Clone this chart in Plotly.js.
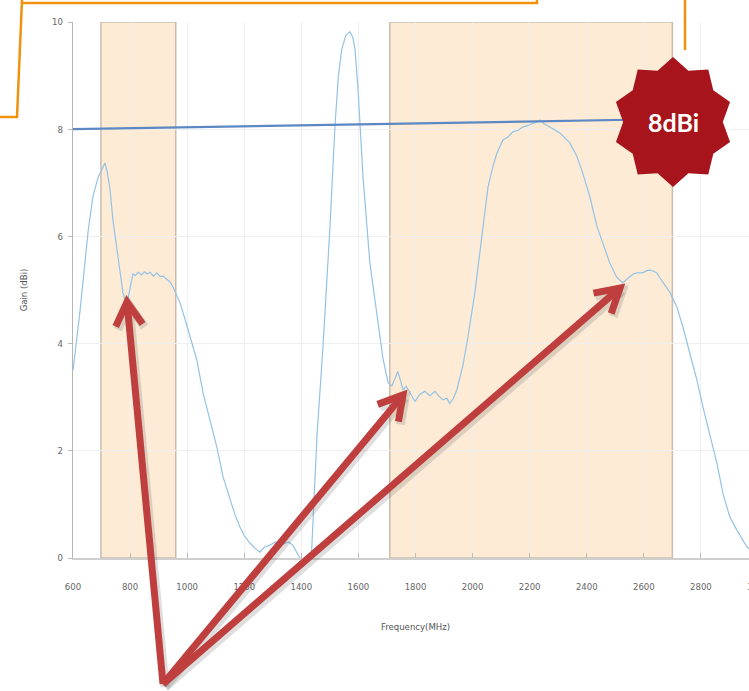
<!DOCTYPE html>
<html>
<head>
<meta charset="utf-8">
<script src="https://cdn.plot.ly/plotly-3.0.1.min.js"></script>
<style>
html,body{margin:0;padding:0;overflow:hidden;background:#fff;}
#chart{width:800px;height:691px;}
</style>
</head>
<body>
<div id="chart"></div>
<script>
// ---- data ----
const freqMHz = [600, 625, 653, 670, 688, 700, 712, 720, 730, 740, 754, 765, 775, 782, 789, 795, 800, 806, 810, 818, 828, 840, 850, 859, 870, 882, 894, 905, 915, 929, 940, 950, 962, 975, 990, 1010, 1034, 1056, 1080, 1104, 1126, 1150, 1168, 1185, 1200, 1220, 1238, 1255, 1270, 1290, 1310, 1336, 1355, 1370, 1385, 1395, 1415, 1435, 1455, 1476, 1500, 1518, 1530, 1542, 1556, 1570, 1580, 1588, 1599, 1616, 1640, 1665, 1686, 1704, 1717, 1728, 1738, 1748, 1756, 1768, 1781, 1798, 1815, 1833, 1850, 1868, 1882, 1896, 1910, 1920, 1932, 1945, 1966, 1983, 2008, 2033, 2054, 2071, 2085, 2106, 2125, 2141, 2160, 2176, 2195, 2211, 2225, 2236, 2250, 2271, 2290, 2306, 2325, 2341, 2365, 2386, 2411, 2435, 2456, 2481, 2505, 2526, 2540, 2551, 2563, 2575, 2596, 2610, 2621, 2635, 2645, 2666, 2691, 2716, 2737, 2761, 2786, 2807, 2831, 2856, 2877, 2901, 2926, 2961, 3000];
const gainDBi = [3.5, 4.63, 6.1, 6.75, 7.1, 7.25, 7.37, 7.2, 6.87, 6.3, 5.75, 5.3, 4.95, 4.82, 4.75, 4.9, 5.05, 5.25, 5.3, 5.27, 5.33, 5.28, 5.34, 5.3, 5.33, 5.26, 5.32, 5.25, 5.26, 5.2, 5.15, 5.06, 4.93, 4.76, 4.5, 4.12, 3.69, 3.07, 2.57, 2.07, 1.51, 1.08, 0.8, 0.58, 0.42, 0.28, 0.18, 0.11, 0.2, 0.24, 0.3, 0.26, 0.3, 0.24, 0.1, 0.0, -0.3, 0.0, 2.3, 3.95, 6.15, 8.08, 9.0, 9.5, 9.75, 9.82, 9.72, 9.5, 8.72, 7.12, 5.51, 4.55, 3.72, 3.27, 3.21, 3.35, 3.48, 3.3, 3.14, 3.2, 3.08, 2.92, 3.05, 3.11, 3.03, 3.11, 3.02, 2.95, 2.98, 2.88, 2.97, 3.14, 3.59, 4.1, 4.95, 6.0, 6.92, 7.3, 7.55, 7.8, 7.86, 7.95, 7.98, 8.04, 8.07, 8.11, 8.13, 8.17, 8.1, 8.04, 7.98, 7.93, 7.83, 7.74, 7.5, 7.18, 6.74, 6.2, 5.88, 5.5, 5.24, 5.13, 5.2, 5.24, 5.3, 5.32, 5.32, 5.36, 5.37, 5.35, 5.32, 5.15, 4.96, 4.68, 4.31, 3.82, 3.32, 2.82, 2.33, 1.77, 1.21, 0.77, 0.52, 0.21, 0.05];
const refLineX = [600, 2700];
const refLineY = [8.0, 8.19];
const bandLow = [698, 960];
const bandHigh = [1710, 2700];
const xTickVals = [600, 800, 1000, 1200, 1400, 1600, 1800, 2000, 2200, 2400, 2600, 2800, 3000];
const yTickVals = [0, 2, 4, 6, 8, 10];
const badgeText = "8dBi";

// ---- geometry helpers (decoration only) ----
const W = 800, H = 691, ML = 73, MR = 42, MT = 22, MB = 133;
const PW = W - ML - MR, PH = H - MT - MB;
const pxX = x => (x - ML) / PW;
const pxY = y => (MT + PH - y) / PH;
const P = (x, y) => pxX(x).toFixed(5) + ',' + pxY(y).toFixed(5);

function polyPath(pts, close) {
  let s = 'M' + P(pts[0][0], pts[0][1]);
  for (let i = 1; i < pts.length; i++) s += ' L' + P(pts[i][0], pts[i][1]);
  return s + (close ? ' Z' : '');
}

// star badge
const cx = 673, cy = 122, rx = 60, ry = 65, inner = 0.83, nPts = 10;
const starPts = [];
for (let k = 0; k < nPts * 2; k++) {
  const a = (90 - k * 180 / nPts) * Math.PI / 180;
  const f = (k % 2 === 0) ? 1 : inner;
  starPts.push([cx + rx * f * Math.cos(a), cy - ry * f * Math.sin(a)]);
}

// arrows
const tail = [163, 684];
const tips = [[127, 302], [403, 395], [620, 288]];
const red = '#bf3e3e';
const shapes = [];
function bandRect(b) {
  return {type: 'rect', xref: 'x', yref: 'y', x0: b[0], x1: b[1], y0: 0, y1: 10,
    fillcolor: '#fdebd6', line: {color: '#c9bcae', width: 1.5}, layer: 'below'};
}
shapes.push(bandRect(bandLow), bandRect(bandHigh));

function arrowShapes(tip, off, color, w) {
  const dx = tail[0] - tip[0], dy = tail[1] - tip[1];
  const ang = Math.atan2(dy, dx);
  const L = 27, spread = 30 * Math.PI / 180;
  const a1 = [tip[0] + L * Math.cos(ang + spread), tip[1] + L * Math.sin(ang + spread)];
  const a2 = [tip[0] + L * Math.cos(ang - spread), tip[1] + L * Math.sin(ang - spread)];
  const o = p => [p[0] + off[0], p[1] + off[1]];
  return [
    {type: 'path', xref: 'paper', yref: 'paper', layer: 'above',
     path: polyPath([o(tip), o(tail)]), line: {color: color, width: w}},
    {type: 'path', xref: 'paper', yref: 'paper', layer: 'above',
     path: polyPath([o(a1), o(tip), o(a2)]), line: {color: color, width: w}}
  ];
}
tips.forEach(t => shapes.push(...arrowShapes(t, [2, 3], 'rgba(90,90,90,0.2)', 9)));
tips.forEach(t => shapes.push(...arrowShapes(t, [0, 0], red, 7)));

// badge
shapes.push({type: 'path', xref: 'paper', yref: 'paper', layer: 'above',
  path: polyPath(starPts, true), fillcolor: '#a8141b', line: {width: 0}});

// orange callout lines
const orange = '#f0920e';
[
  [[537, 0], [537, 3], [21, 3]],
  [[22, 0], [17, 117], [0, 117]],
  [[685, 0], [685, 50]]
].forEach(p => shapes.push({type: 'path', xref: 'paper', yref: 'paper', layer: 'above',
  path: polyPath(p), line: {color: orange, width: 2.5}}));

const tickFont = {family: '"Liberation Sans Narrow", "DejaVu Sans Condensed", "Arial Narrow", sans-serif', size: 9.5, color: '#666'};

const data = [
  {x: freqMHz, y: gainDBi, type: 'scatter', mode: 'lines',
   line: {color: '#92c3e6', width: 1.2}, hoverinfo: 'x+y'},
  {x: refLineX, y: refLineY, type: 'scatter', mode: 'lines',
   line: {color: '#5b87c2', width: 2.2}}
];

const layout = {
  width: W, height: H,
  margin: {l: ML, r: MR, t: MT, b: MB},
  paper_bgcolor: '#ffffff', plot_bgcolor: '#ffffff',
  showlegend: false,
  xaxis: {
    range: [600, 3000], tickvals: xTickVals, ticktext: xTickVals.map(String),
    showgrid: true, gridcolor: '#efefef', gridwidth: 1,
    zeroline: false, showline: true, linecolor: '#cfcfcf', linewidth: 1.5,
    ticks: 'inside', ticklen: 5, tickcolor: '#bbbbbb',
    tickfont: tickFont, ticklabelstandoff: 19,
    title: {text: 'Frequency(MHz)', font: {family: tickFont.family, size: 9.5, color: '#555'}, standoff: 32},
    automargin: false
  },
  yaxis: {
    range: [0, 10], tickvals: yTickVals, ticktext: yTickVals.map(String),
    showgrid: true, gridcolor: '#efefef', gridwidth: 1,
    zeroline: false, showline: true, linecolor: '#b5b5b5', linewidth: 1.2,
    ticks: 'outside', ticklen: 4, tickcolor: '#bbbbbb',
    tickfont: tickFont, ticklabelstandoff: 3,
    title: {text: 'Gain (dBi)', font: {family: tickFont.family, size: 9.5, color: '#555'}, standoff: 22},
    automargin: false
  },
  shapes: shapes,
  annotations: [
    {xref: 'paper', yref: 'paper', x: pxX(cx), y: pxY(cy), text: '<b>' + badgeText + '</b>',
     showarrow: false, font: {family: 'Lato, "Open Sans", sans-serif', size: 25, color: '#ffffff'},
     xanchor: 'center', yanchor: 'middle'}
  ]
};

Plotly.newPlot('chart', data, layout, {displayModeBar: false, staticPlot: true});
</script>
</body>
</html>
